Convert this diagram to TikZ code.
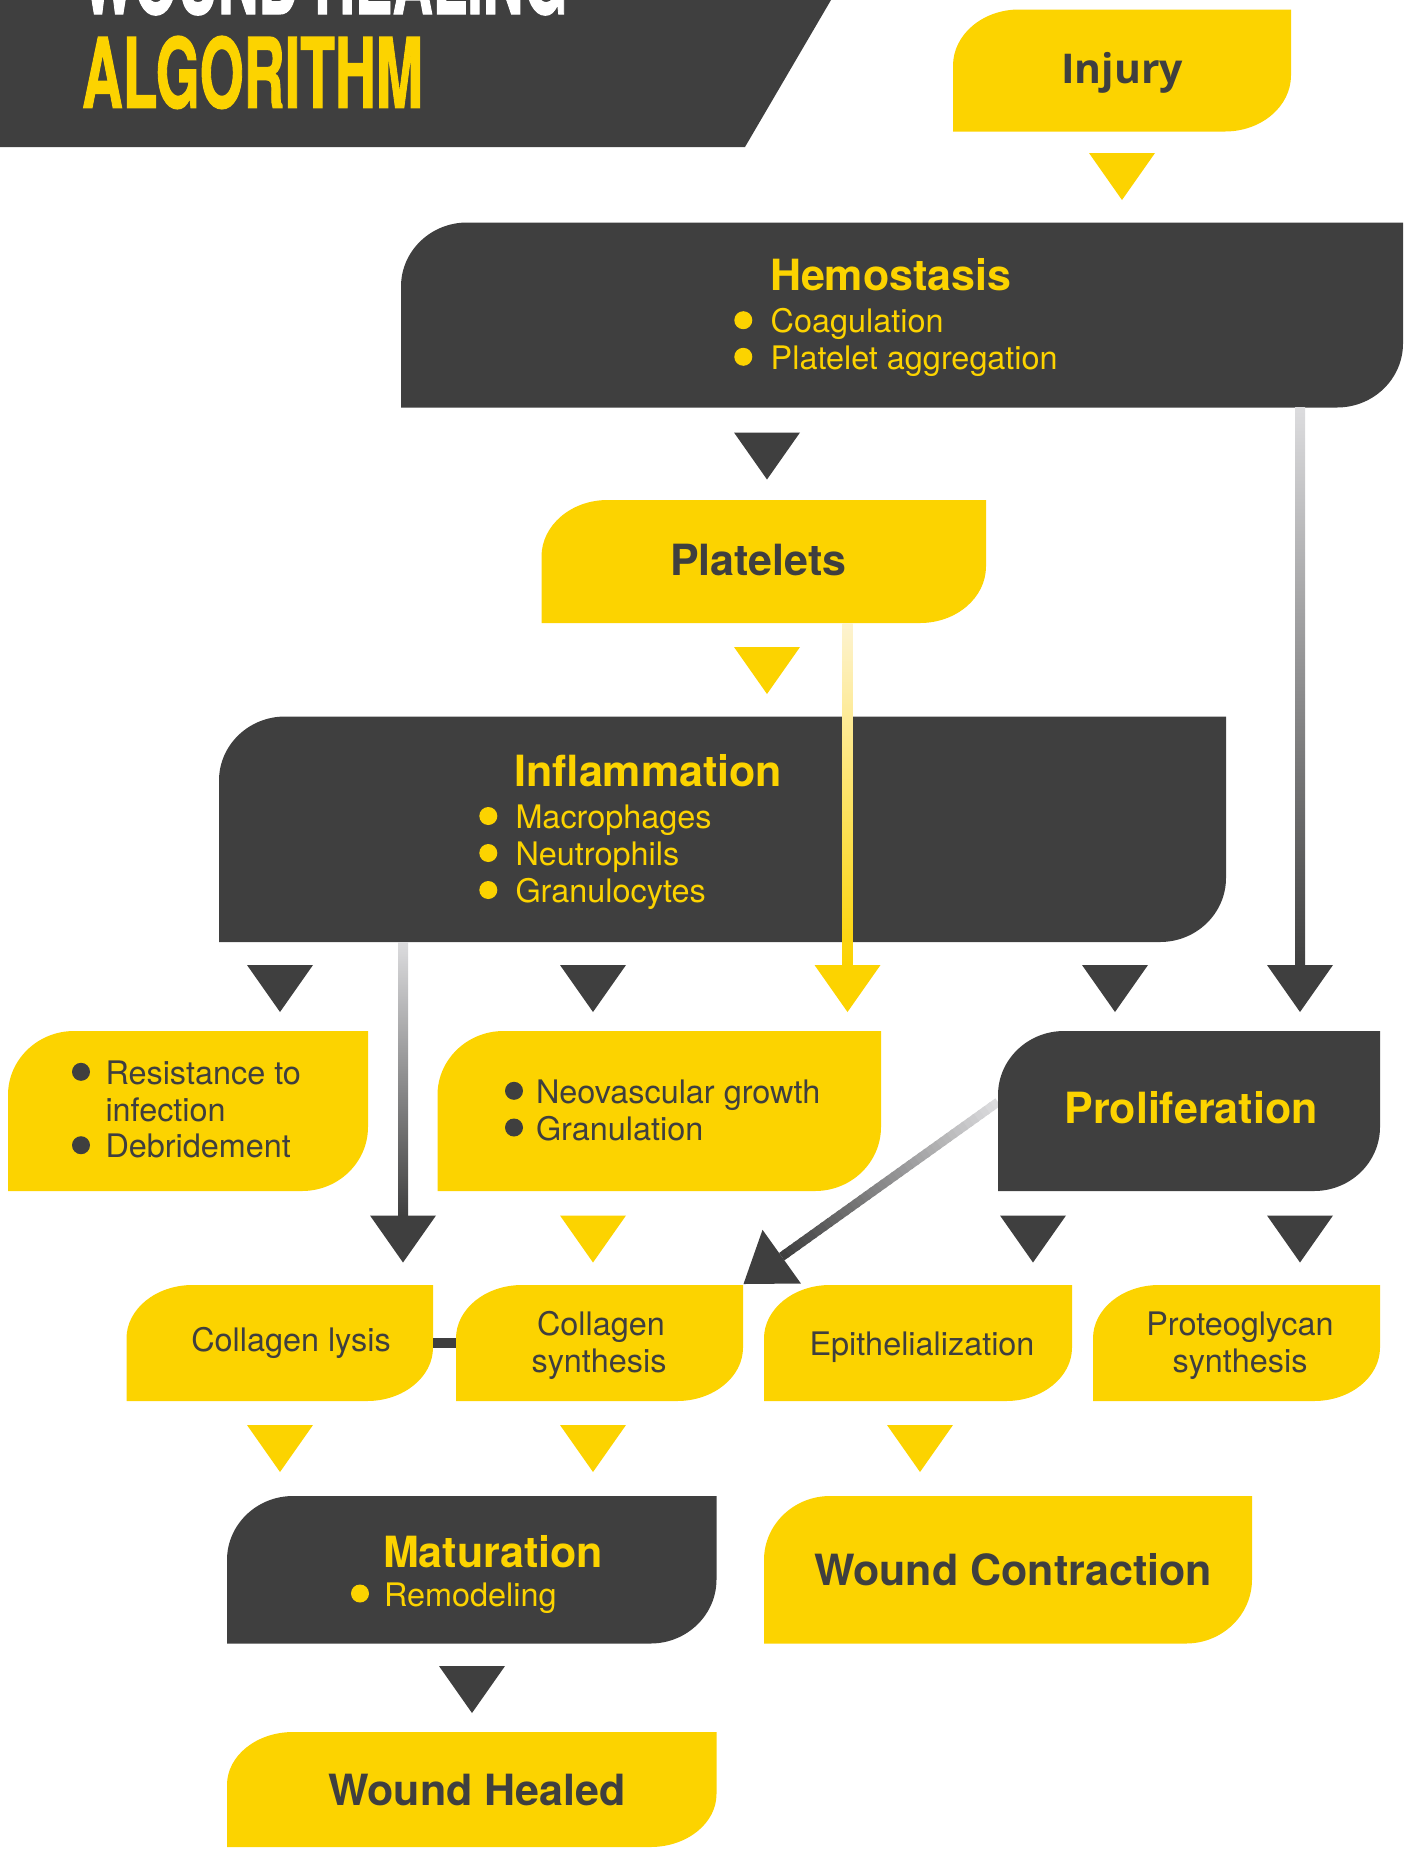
\documentclass[tikz,border=0pt]{standalone}
\usepackage{fontspec}
\usepackage{graphicx}
\setmainfont{TeX Gyre Heros}
\newfontfamily\injfont{Open Sans}
\newfontfamily\bannerfont[FakeBold=1.5]{TeX Gyre Heros}
\usetikzlibrary{calc,fit}
\definecolor{dk}{HTML}{3F3F3F}
\definecolor{yl}{HTML}{FCD300}
\definecolor{lg}{HTML}{DCDCDE}
\definecolor{cream}{HTML}{FDF3D0}
\tikzset{
  boxarea/.style={inner sep=0pt, outer sep=0pt},
  lbl/.style={inner sep=0pt, outer sep=0pt},
  ttl/.style={lbl, font=\fontsize{21.5pt}{24pt}\selectfont\bfseries},
  txt/.style={lbl, font=\fontsize{16.2pt}{18pt}\selectfont},
  bnr/.style={lbl, anchor=base west, font=\bannerfont\fontsize{48.35pt}{50pt}\selectfont\bfseries},
}
\newcommand\leafbox[6]{%
  \node[boxarea, fit={(#3,#4) (#5,#6)}] (#1) {};
  \pgfmathsetmacro\ry{min(64,0.46*(#6-#4))}%
  \fill[#2] (#1.south west) -- ($(#1.north west)+(0,\ry)$)
    .. controls ($(#1.north west)+(0,0.448*\ry)$) and ($(#1.north west)+(29.6,0)$)
    .. ($(#1.north west)+(66,0)$) -- (#1.north east)
    -- ($(#1.south east)+(0,-\ry)$)
    .. controls ($(#1.south east)+(0,-0.448*\ry)$) and ($(#1.south east)+(-29.6,0)$)
    .. ($(#1.south east)+(-66,0)$) -- cycle;}
\newcommand\downtri[3]{\fill[#1] (#2-33,#3) -- (#2+33,#3) -- (#2,#3+47) -- cycle;}
\newcommand\bdot[3]{\fill[#1] (#2,#3) circle[radius=4.5pt];}
\begin{document}
\begin{tikzpicture}[x=0.5pt,y=-0.5pt]
\useasboundingbox (0,0) rectangle (1407,1854);
\clip (0,0) rectangle (1407,1854);

% banner
\fill[dk] (0,0) -- (831,0) -- (745,147) -- (0,147) -- cycle;
\node[bnr, text=white] (title1) at (82,14) {\scalebox{0.58}[1]{WOUND HEALING}};
\node[bnr, text=yl] (title2) at (82,107.7) {\scalebox{0.585}[1]{ALGORITHM}};

% diagonal connector (drawn under boxes)
\coordinate (d-s) at (998,1102);
\coordinate (d-t) at (743.5,1284);
\coordinate (d-b) at ($(d-t)!23.5pt!(d-s)$);
\foreach \i in {0,...,39}{
  \pgfmathtruncatemacro\p{\i*100/39}
  \draw[line width=4.5pt, draw=dk!\p!lg] ($(d-s)!\i/40!(d-b)$) -- ($(d-s)!{min(1,(\i+1.4)/40)}!(d-b)$);
}
\fill[dk] (d-t) -- ($(d-b)!16.5pt!90:(d-s)$) -- ($(d-b)!16.5pt!-90:(d-s)$) -- cycle;

% boxes
\leafbox{inj}{yl}{953}{9.5}{1291}{131.5}
\leafbox{hem}{dk}{401}{222.5}{1403}{407.5}
\leafbox{plat}{yl}{541.5}{500}{986}{623}
\leafbox{infl}{dk}{219}{716.5}{1226}{942}
\leafbox{res}{yl}{8}{1031}{368}{1191}
\leafbox{neo}{yl}{437.5}{1031}{881}{1191}
\leafbox{prol}{dk}{998}{1031}{1380}{1191}
\leafbox{lys}{yl}{126.5}{1285}{433}{1401}
\leafbox{syn}{yl}{456}{1285}{743}{1401}
\leafbox{epi}{yl}{764}{1285}{1072}{1401}
\leafbox{pro}{yl}{1093}{1285}{1380}{1401}
\leafbox{mat}{dk}{227}{1496}{716.5}{1643.5}
\leafbox{wc}{yl}{764}{1496}{1252}{1643.5}
\leafbox{wh}{yl}{227}{1732}{716.5}{1847}

% long connectors
\coordinate (a-hp) at (1300,966);
\coordinate (a-pn) at (847.5,966);
\coordinate (a-il) at (403,1216);
\shade[top color=lg, bottom color=dk] ([xshift=-2.5pt]hem.south -| a-hp) rectangle ([xshift=2.5pt]a-hp);
\shade[top color=cream, bottom color=yl] ([xshift=-2.5pt]plat.south -| a-pn) rectangle ([xshift=2.5pt]a-pn);
\shade[top color=lg, bottom color=dk] ([xshift=-2.5pt]infl.south -| a-il) rectangle ([xshift=2.5pt]a-il);
\draw[dk, line width=5pt] (lys.east) -- (syn.west);

% triangles
\downtri{yl}{1122}{153}
\downtri{dk}{767}{432.5}
\downtri{yl}{767}{647}
\downtri{dk}{280}{965}
\downtri{dk}{593}{965}
\downtri{yl}{847.5}{965}
\downtri{dk}{1115}{965}
\downtri{dk}{1300}{965}
\downtri{dk}{403}{1215.5}
\downtri{yl}{593}{1215.5}
\downtri{dk}{1033}{1215.5}
\downtri{dk}{1300}{1215.5}
\downtri{yl}{280}{1425}
\downtri{yl}{593}{1425}
\downtri{yl}{920}{1425}
\downtri{dk}{472}{1666}

% texts
\node[lbl, anchor=base, text=dk, font=\injfont\bfseries\fontsize{20.5pt}{24pt}\selectfont] (inj-t) at (1122,83.3) {Injury};

\node[ttl, anchor=base west, text=yl] (hem-t) at (770,290) {Hemostasis};
\bdot{yl}{743.3}{320.2}
\node[txt, anchor=base west, text=yl] (hem-1) at (770.7,332.7) {Coagulation};
\bdot{yl}{743.3}{356.8}
\node[txt, anchor=base west, text=yl] (hem-2) at (770.7,369.3) {Platelet aggregation};

\node[ttl, anchor=base, text=dk] (plat-t) at (758.5,575) {Platelets};

\node[ttl, anchor=base west, text=yl] (infl-t) at (514.5,786.5) {Inflammation};
\bdot{yl}{488.3}{816}
\node[txt, anchor=base west, text=yl] (infl-1) at (515.5,828.5) {Macrophages};
\bdot{yl}{488.3}{853}
\node[txt, anchor=base west, text=yl] (infl-2) at (515.5,865.5) {Neutrophils};
\bdot{yl}{488.3}{890}
\node[txt, anchor=base west, text=yl] (infl-3) at (515.5,902.5) {Granulocytes};

\bdot{dk}{81}{1071.8}
\node[txt, anchor=base west, text=dk] (res-1) at (105.5,1084.3) {Resistance to};
\node[txt, anchor=base west, text=dk] (res-2) at (105.5,1121) {infection};
\bdot{dk}{81}{1145.2}
\node[txt, anchor=base west, text=dk] (res-3) at (105.5,1157.7) {Debridement};

\bdot{dk}{514}{1090.8}
\node[txt, anchor=base west, text=dk] (neo-1) at (536,1103.3) {Neovascular growth};
\bdot{dk}{514}{1127.5}
\node[txt, anchor=base west, text=dk] (neo-2) at (536,1140) {Granulation};

\node[ttl, anchor=base, text=yl] (prol-t) at (1191,1123.5) {Proliferation};

\node[txt, anchor=base, text=dk] (lys-t) at (291,1351) {Collagen lysis};
\node[txt, anchor=base, text=dk] (syn-1) at (601,1335) {Collagen};
\node[txt, anchor=base, text=dk] (syn-2) at (599,1372) {synthesis};
\node[txt, anchor=base, text=dk] (epi-t) at (922,1355) {Epithelialization};
\node[txt, anchor=base, text=dk] (pro-1) at (1240,1335) {Proteoglycan};
\node[txt, anchor=base, text=dk] (pro-2) at (1240,1372) {synthesis};

\node[ttl, anchor=base west, text=yl] (mat-t) at (383,1567) {Maturation};
\bdot{yl}{360}{1593.5}
\node[txt, anchor=base west, text=yl] (mat-1) at (384,1606) {Remodeling};

\node[ttl, anchor=base, text=dk] (wc-t) at (1013,1585) {Wound Contraction};
\node[ttl, anchor=base, text=dk] (wh-t) at (477,1805) {Wound Healed};
\end{tikzpicture}
\end{document}
